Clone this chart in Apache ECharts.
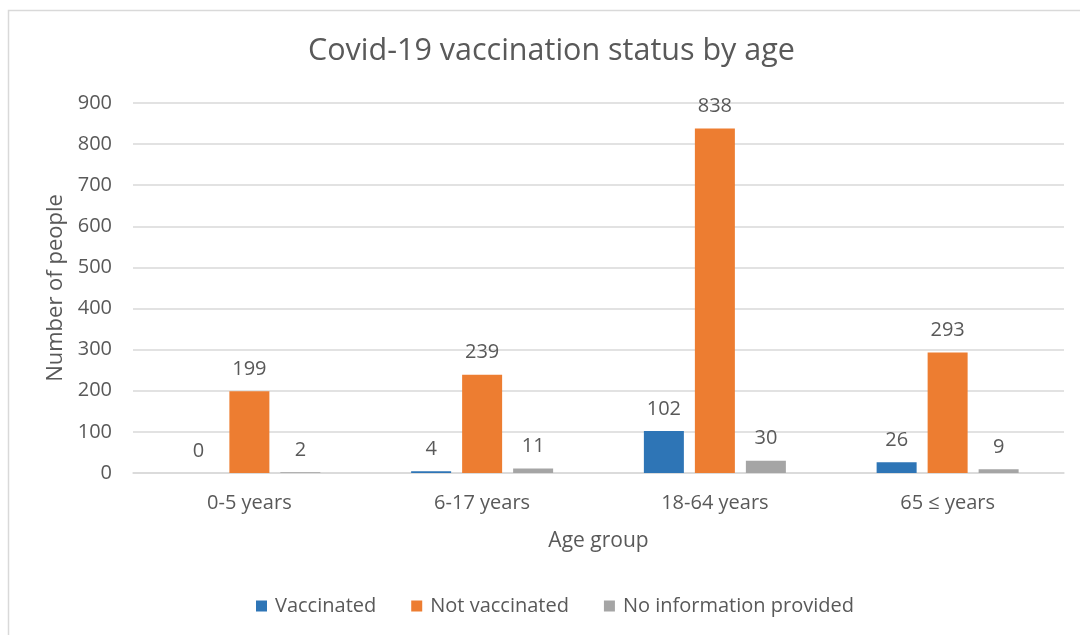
<!DOCTYPE html>
<html><head><meta charset="utf-8">
<script src="https://cdn.jsdelivr.net/npm/echarts@6/dist/echarts.min.js"></script>
<style>html,body{margin:0;padding:0;background:#fff}#c{width:1080px;height:635px}</style>
</head><body><div id="c"></div>
<script>
const categories = ['0-5 years', '6-17 years', '18-64 years', '65 ≤ years'];
const vaccinated = [0, 4, 102, 26];
const notVaccinated = [199, 239, 838, 293];
const noInfo = [2, 11, 30, 9];
const seriesNames = ['Vaccinated', 'Not vaccinated', 'No information provided'];
const colors = ['#2E75B6', '#ED7D31', '#A5A5A5'];
const FONT = '"Open Sans", "Noto Sans", sans-serif';
const TXT = '#595959';

const chart = echarts.init(document.getElementById('c'), null, {renderer: 'canvas'});
const lbl = {show: true, position: 'top', distance: 12, color: TXT, fontSize: 20, fontFamily: FONT};
function mk(name, data, color) {
  return {name, type: 'bar', data, barWidth: 40, barGap: '27.5%',
    itemStyle: {color}, label: lbl, emphasis: {disabled: true}};
}
chart.setOption({
  animation: false,
  color: colors,
  graphic: [{type: 'rect', shape: {x: 8.5, y: 10.5, width: 1100, height: 700},
    style: {fill: 'none', stroke: '#D9D9D9', lineWidth: 1.5}, silent: true}],
  title: {text: 'Covid-19 vaccination status by age', left: 303, top: 31,
    textStyle: {fontFamily: FONT, fontSize: 30.5, fontWeight: 'normal', color: TXT}},
  legend: {bottom: 14, left: 251, itemWidth: 11, itemHeight: 11, itemGap: 35,
    icon: 'rect', textStyle: {fontFamily: FONT, fontSize: 20, color: TXT, padding: [0, 0, 0, 3]}},
  grid: {left: 133, right: 16, top: 103, bottom: 162, containLabel: false},
  xAxis: {type: 'category', data: categories,
    name: 'Age group', nameLocation: 'middle', nameGap: 58,
    nameTextStyle: {fontFamily: FONT, fontSize: 21, color: TXT},
    axisLine: {lineStyle: {color: '#D9D9D9', width: 1.5}}, axisTick: {show: false},
    axisLabel: {fontFamily: FONT, fontSize: 20, color: TXT, margin: 20}},
  yAxis: {type: 'value', min: 0, max: 900, interval: 100,
    name: 'Number of people', nameLocation: 'middle', nameGap: 64,
    nameTextStyle: {fontFamily: FONT, fontSize: 22, color: TXT},
    axisLine: {show: false}, axisTick: {show: false},
    splitLine: {lineStyle: {color: '#D9D9D9', width: 1.5}},
    axisLabel: {fontFamily: FONT, fontSize: 20, color: TXT, margin: 21}},
  series: [mk(seriesNames[0], vaccinated, colors[0]), mk(seriesNames[1], notVaccinated, colors[1]), mk(seriesNames[2], noInfo, colors[2])]
});
</script></body></html>
